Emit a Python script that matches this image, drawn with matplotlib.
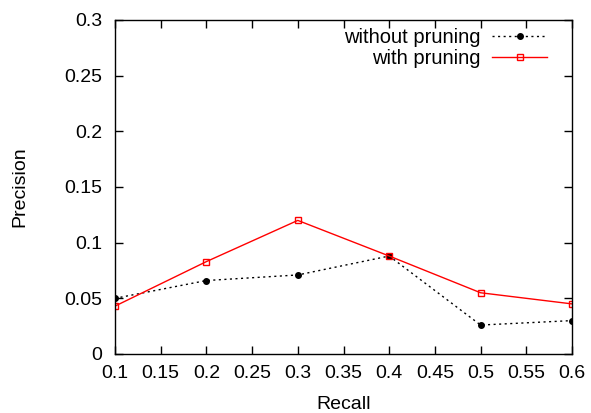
import matplotlib
matplotlib.use("Agg")
import matplotlib.pyplot as plt

plt.rcParams['font.family'] = ['Liberation Sans', 'DejaVu Sans']

recall = [0.1, 0.2, 0.3, 0.4, 0.5, 0.6]
without_pruning = [0.050, 0.066, 0.071, 0.088, 0.026, 0.030]
with_pruning = [0.043, 0.083, 0.120, 0.088, 0.055, 0.045]

x_ticks = [0.1, 0.15, 0.2, 0.25, 0.3, 0.35, 0.4, 0.45, 0.5, 0.55, 0.6]
y_ticks = [0, 0.05, 0.1, 0.15, 0.2, 0.25, 0.3]

FS = 14

fig = plt.figure(figsize=(5.91, 4.13), dpi=100)
ax = fig.add_axes([115 / 591, 59 / 413, 457 / 591, 334 / 413])

ax.plot(recall, without_pruning, color='black', linestyle=(0, (1.5, 2.5)), linewidth=1,
        marker='o', markersize=4, label='without pruning')
ax.plot(recall, with_pruning, color='red', linestyle='-', linewidth=1,
        marker='s', markersize=5, markerfacecolor='none', markeredgewidth=1,
        label='with pruning')

ax.set_xlim(0.1, 0.6)
ax.set_ylim(0, 0.3)
ax.set_xticks(x_ticks)
ax.set_xticklabels([f"{t:g}" for t in x_ticks])
ax.set_yticks(y_ticks)
ax.set_yticklabels([f"{t:g}" for t in y_ticks])
ax.tick_params(direction='in', top=True, right=True, length=6, width=1,
               labelsize=FS)
ax.tick_params(axis='y', pad=9)
ax.tick_params(axis='x', pad=8)
for s in ax.spines.values():
    s.set_linewidth(1)

ax.set_xlabel('Recall', fontsize=FS, labelpad=10)
ax.set_ylabel('Precision', fontsize=FS, labelpad=26)

ax.legend(loc='upper right', bbox_to_anchor=(0.945, 0.975), frameon=False,
          markerfirst=False, fontsize=14.5, handlelength=2.7, handletextpad=0.6,
          labelspacing=0.08, borderaxespad=0, borderpad=0)

fig.savefig('out.png', dpi=100)
